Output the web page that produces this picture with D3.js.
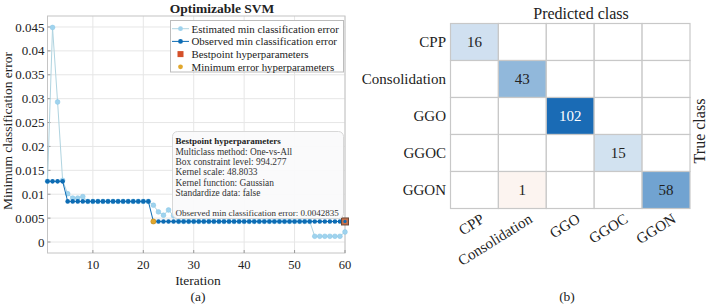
<!doctype html>
<html>
<head>
<script src="https://d3js.org/d3.v7.min.js" charset="utf-8"></script>
<style>
  body { margin: 0; background: #fff; }
</style>
</head>
<body>
<div id="viz"></div>
<script>
// ---- data for panel (a) ----
var observed = [0.0127, 0.0127, 0.0127, 0.0127,
  0.0085, 0.0085, 0.0085, 0.0085, 0.0085, 0.0085, 0.0085, 0.0085, 0.0085, 0.0085,
  0.0085, 0.0085, 0.0085, 0.0085, 0.0085, 0.0085, 0.0085,
  0.0043, 0.0043, 0.0043, 0.0043, 0.0043, 0.0043, 0.0043, 0.0043, 0.0043, 0.0043,
  0.0043, 0.0043, 0.0043, 0.0043, 0.0043, 0.0043, 0.0043, 0.0043, 0.0043, 0.0043,
  0.0043, 0.0043, 0.0043, 0.0043, 0.0043, 0.0043, 0.0043, 0.0043, 0.0043, 0.0043,
  0.0043, 0.0043, 0.0043, 0.0043, 0.0043, 0.0043, 0.0043, 0.0043, 0.0043];
var estimated = [0.0127, 0.0449, 0.0293, 0.0129, 0.0101, 0.0092, 0.0092, 0.0095,
  0.0085, 0.0085, 0.0085, 0.0085, 0.0085, 0.0085, 0.0085, 0.0085, 0.0085, 0.0085,
  0.0085, 0.0085, 0.0085,
  0.0077, 0.0063, 0.0056, 0.0067, 0.0055,
  0.0043, 0.0043, 0.0043, 0.0043, 0.0043, 0.0043, 0.0043, 0.0043, 0.0043, 0.0043,
  0.0043, 0.0043, 0.0043, 0.0043, 0.0043, 0.0043, 0.0043, 0.0043, 0.0043, 0.0043,
  0.0043, 0.0043, 0.0043, 0.0043, 0.0043, 0.0043, 0.0043,
  0.0012, 0.0012, 0.0012, 0.0012, 0.0012, 0.0012, 0.0021];
var bestPoint = {iter: 60, err: 0.0043};
var minErrPoint = {iter: 22, err: 0.0043};
var xTicks = [10, 20, 30, 40, 50, 60];
var yTicks = [0, 0.005, 0.01, 0.015, 0.02, 0.025, 0.03, 0.035, 0.04, 0.045];
var legendLabels = ["Estimated min classification error", "Observed min classification error",
  "Bestpoint hyperparameters", "Minimum error hyperparameters"];
var noteLines = ["Multiclass method: One-vs-All", "Box constraint level: 994.277",
  "Kernel scale: 48.8033", "Kernel function: Gaussian", "Standardize data: false"];

// ---- data for panel (b) ----
var classes = ["CPP", "Consolidation", "GGO", "GGOC", "GGON"];
var counts = [
  [16, 0, 0, 0, 0],
  [0, 43, 0, 0, 0],
  [0, 0, 102, 0, 0],
  [0, 0, 0, 15, 0],
  [0, 1, 0, 0, 58]
];

var svg = d3.select("#viz").append("svg")
  .attr("width", 709).attr("height", 307)
  .attr("font-family", "Liberation Serif")
  .attr("fill", "#222");

// ===== panel (a) =====
var estColor = "#9fd3ee", estLine = "#b0d4e0", obsColor = "#0d6cb4";
var x = d3.scaleLinear().domain([1, 60]).range([47.5, 345]);
var y = d3.scaleLinear().domain([-0.0023, 0.0473]).range([253, 16]);
var a = svg.append("g");

// grid
a.selectAll(".gx").data(xTicks).enter().append("line")
  .attr("x1", d => x(d)).attr("x2", d => x(d)).attr("y1", 16).attr("y2", 253)
  .attr("stroke", "#e6e6e6");
a.selectAll(".gy").data(yTicks).enter().append("line")
  .attr("y1", d => y(d)).attr("y2", d => y(d)).attr("x1", 47.5).attr("x2", 345)
  .attr("stroke", "#e6e6e6");

// box
a.append("rect").attr("x", 47.5).attr("y", 16).attr("width", 345 - 47.5).attr("height", 237)
  .attr("fill", "none").attr("stroke", "#c4c4c4");

// tick marks + labels
a.selectAll(".tx").data(xTicks).enter().append("line")
  .attr("x1", d => x(d)).attr("x2", d => x(d)).attr("y1", 253).attr("y2", 250)
  .attr("stroke", "#999");
a.selectAll(".lx").data(xTicks).enter().append("text")
  .attr("x", d => x(d)).attr("y", 269).attr("text-anchor", "middle")
  .attr("font-size", 12.5).text(d => d);
a.selectAll(".ty").data(yTicks).enter().append("line")
  .attr("y1", d => y(d)).attr("y2", d => y(d)).attr("x1", 47.5).attr("x2", 50.5)
  .attr("stroke", "#999");
a.selectAll(".ly").data(yTicks).enter().append("text")
  .attr("x", 44.5).attr("y", d => y(d)).attr("dy", "0.35em").attr("text-anchor", "end")
  .attr("font-size", 13).text(d => +d.toFixed(3));

// estimated series
var line = d3.line().x((d, i) => x(i + 1)).y(d => y(d));
a.append("path").datum(estimated).attr("d", line)
  .attr("fill", "none").attr("stroke", estLine).attr("stroke-width", 1);
a.selectAll(".est").data(estimated).enter().append("circle")
  .attr("cx", (d, i) => x(i + 1)).attr("cy", d => y(d)).attr("r", 2.4)
  .attr("fill", estColor).attr("stroke", "#86c5e4").attr("stroke-width", 0.5);

// observed series
a.append("path").datum(observed).attr("d", line)
  .attr("fill", "none").attr("stroke", obsColor).attr("stroke-width", 1);
a.selectAll(".obs").data(observed).enter().append("circle")
  .attr("cx", (d, i) => x(i + 1)).attr("cy", d => y(d)).attr("r", 2.3)
  .attr("fill", obsColor);

// min error + bestpoint markers
a.append("circle").attr("cx", x(minErrPoint.iter)).attr("cy", y(minErrPoint.err)).attr("r", 2.6)
  .attr("fill", "#e1a72c").attr("stroke", "#b8871e").attr("stroke-width", 0.5);
a.append("rect").attr("x", x(bestPoint.iter) - 3.5).attr("y", y(bestPoint.err) - 3.5)
  .attr("width", 7).attr("height", 7).attr("fill", "#c9704a").attr("stroke", "#6b4a3a");
a.append("circle").attr("cx", x(bestPoint.iter)).attr("cy", y(bestPoint.err)).attr("r", 1.6)
  .attr("fill", obsColor);

// annotation box
var nb = a.append("g");
nb.append("rect").attr("x", 172.5).attr("y", 131.5).attr("width", 171).attr("height", 87)
  .attr("rx", 5).attr("fill", "#fafafb").attr("fill-opacity", 0.93)
  .attr("stroke", "#d8d8d8");
nb.append("text").attr("x", 175.5).attr("y", 144).attr("font-size", 9)
  .attr("font-weight", "bold").text("Bestpoint hyperparameters");
nb.selectAll(".nl").data(noteLines).enter().append("text")
  .attr("x", 175.5).attr("y", (d, i) => 154.6 + i * 10.3).attr("font-size", 9.4)
  .attr("fill", "#333").text(d => d);
nb.append("text").attr("x", 175.5).attr("y", 216.3).attr("font-size", 9)
  .attr("fill", "#333").text("Observed min classification error: 0.0042835");

// legend
var lg = a.append("g");
lg.append("rect").attr("x", 170.5).attr("y", 20.5).attr("width", 173).attr("height", 51.5)
  .attr("fill", "#fff").attr("stroke", "#bdbdbd");
legendLabels.forEach(function (lab, i) {
  var cy = 28.7 + i * 12.7;
  if (i < 2) {
    lg.append("line").attr("x1", 172).attr("x2", 189).attr("y1", cy).attr("y2", cy)
      .attr("stroke", i === 0 ? estLine : obsColor);
    lg.append("circle").attr("cx", 180.5).attr("cy", cy).attr("r", 2.4)
      .attr("fill", i === 0 ? estColor : obsColor);
  } else if (i === 2) {
    lg.append("rect").attr("x", 177.5).attr("y", cy - 3).attr("width", 6).attr("height", 6)
      .attr("fill", "#d4502a");
  } else {
    lg.append("circle").attr("cx", 180.5).attr("cy", cy).attr("r", 2.4).attr("fill", "#e1a72c");
  }
  lg.append("text").attr("x", 191.5).attr("y", cy).attr("dy", "0.35em")
    .attr("font-size", 10.9).text(lab);
});

// titles
a.append("text").attr("x", 222).attr("y", 13).attr("text-anchor", "middle")
  .attr("font-size", 13.5).attr("font-weight", "bold").text("Optimizable SVM");
a.append("text").attr("transform", "translate(12,131) rotate(-90)").attr("text-anchor", "middle")
  .attr("font-size", 13.5).text("Minimum classification error");
a.append("text").attr("x", 198).attr("y", 284.5).attr("text-anchor", "middle")
  .attr("font-size", 13.5).text("Iteration");
a.append("text").attr("x", 198).attr("y", 301).attr("text-anchor", "middle")
  .attr("font-size", 13.5).text("(a)");

// ===== panel (b) =====
var b = svg.append("g");
var cx = d3.scaleBand().domain(classes).range([450.5, 690]);
var cy2 = d3.scaleBand().domain(classes).range([23.5, 208.5]);
var diagColor = d3.scalePow().exponent(0.85).domain([0, 102]).range(["#ffffff", "#1a6bb5"]);
var offColor = d3.scaleLinear().domain([0, 15]).range(["#ffffff", "#d95319"]);

var cells = [];
counts.forEach(function (row, r) {
  row.forEach(function (v, c) { cells.push({r: classes[r], c: classes[c], v: v, diag: r === c}); });
});

b.selectAll(".cell").data(cells).enter().append("rect")
  .attr("x", d => cx(d.c)).attr("y", d => cy2(d.r))
  .attr("width", cx.bandwidth()).attr("height", cy2.bandwidth())
  .attr("fill", d => d.v === 0 ? "#fff" : (d.diag ? diagColor(d.v) : offColor(d.v)))
  .attr("stroke", "#c8c8c8").attr("stroke-width", 1.2);
b.selectAll(".num").data(cells.filter(d => d.v > 0)).enter().append("text")
  .attr("x", d => cx(d.c) + cx.bandwidth() / 2).attr("y", d => cy2(d.r) + cy2.bandwidth() / 2)
  .attr("dy", "0.35em").attr("text-anchor", "middle").attr("font-size", 15)
  .attr("fill", d => d.v > 80 ? "#fff" : "#222").text(d => d.v);

// row labels
b.selectAll(".rl").data(classes).enter().append("text")
  .attr("x", 446).attr("y", d => cy2(d) + cy2.bandwidth() / 2).attr("dy", "0.35em")
  .attr("text-anchor", "end").attr("font-size", 15).text(d => d);
// column labels
b.selectAll(".cl").data(classes).enter().append("text")
  .attr("transform", d => "translate(" + (cx(d) + cx.bandwidth() / 2 + 5) + ",212) rotate(-32)")
  .attr("dy", "0.75em").attr("text-anchor", "end").attr("font-size", 15).text(d => d);

b.append("text").attr("x", 581).attr("y", 19).attr("text-anchor", "middle")
  .attr("font-size", 16).text("Predicted class");
b.append("text").attr("transform", "translate(699,131) rotate(-90)").attr("dy", "0.35em")
  .attr("text-anchor", "middle").attr("font-size", 16).text("True class");
b.append("text").attr("x", 567).attr("y", 301).attr("text-anchor", "middle")
  .attr("font-size", 13.5).text("(b)");
</script>
</body>
</html>
